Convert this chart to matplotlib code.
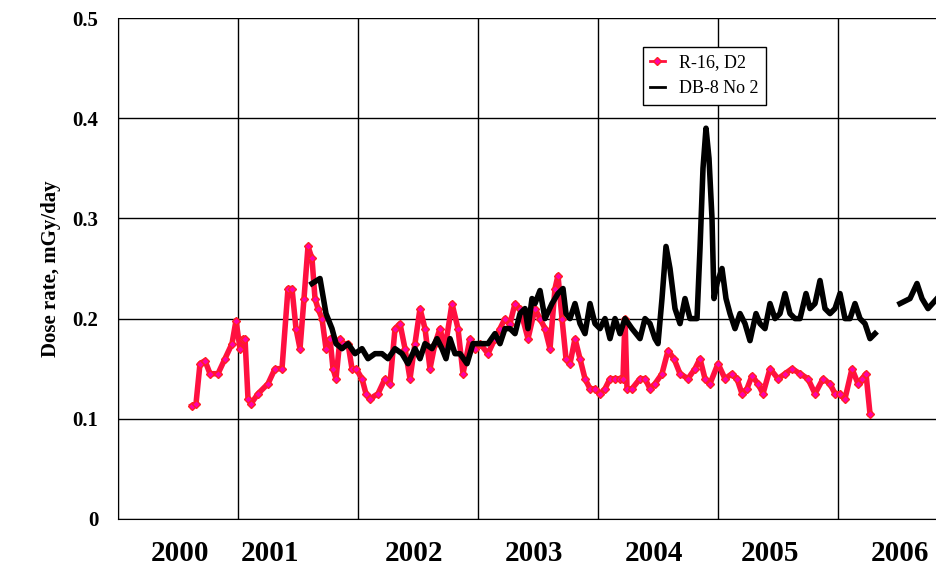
import matplotlib
matplotlib.use("Agg")
import matplotlib.pyplot as plt
import numpy as np

# time in months since Jan 1999
r16_m = [7.4,7.8,8.2,8.7,9.2,10,10.7,11.4,11.8,12.2,12.5,12.7,13,13.3,14,15,15.7,16.4,17,17.4,17.8,18.2,18.6,19,19.4,19.7,20,20.4,20.8,21.2,21.5,21.8,22.2,22.5,23,23.4,23.8,24.4,24.8,25.2,26,26.7,27.2,27.7,28.2,28.7,29.2,29.7,30.2,30.7,31.2,31.7,32.2,32.7,33.4,34,34.5,35.2,35.7,36.2,37,37.7,38.2,38.7,39.2,39.7,40.2,41,41.7,42.2,42.7,43.2,43.7,44,44.4,44.8,45.2,45.7,46.2,46.7,47.2,47.7,48.2,48.7,49.2,49.7,50.2,50.5,50.7,50.9,51.4,52.2,52.7,53.2,53.7,54.4,55,55.6,56.2,57,57.7,58.2,58.7,59.2,60,60.7,61.4,61.9,62.4,62.9,63.4,64,64.5,65.2,66,66.7,67.4,68.2,69,69.7,70.5,71.2,71.7,72.2,72.7,73.4,74,74.4,74.8,75.2]
r16_v = [0.113,0.115,0.155,0.158,0.145,0.145,0.16,0.175,0.198,0.17,0.18,0.18,0.12,0.115,0.125,0.135,0.15,0.15,0.23,0.23,0.19,0.17,0.22,0.272,0.26,0.22,0.21,0.2,0.17,0.18,0.15,0.14,0.18,0.175,0.175,0.15,0.15,0.14,0.125,0.12,0.125,0.14,0.135,0.19,0.195,0.17,0.14,0.175,0.21,0.19,0.15,0.175,0.19,0.17,0.215,0.19,0.145,0.18,0.17,0.175,0.165,0.18,0.19,0.20,0.195,0.215,0.21,0.18,0.21,0.2,0.19,0.17,0.23,0.243,0.2,0.16,0.155,0.18,0.16,0.14,0.13,0.13,0.125,0.13,0.14,0.14,0.14,0.14,0.2,0.13,0.13,0.14,0.14,0.13,0.135,0.145,0.168,0.16,0.145,0.14,0.15,0.16,0.14,0.135,0.155,0.14,0.145,0.14,0.125,0.13,0.143,0.135,0.125,0.15,0.14,0.145,0.15,0.145,0.14,0.125,0.14,0.135,0.125,0.125,0.12,0.15,0.135,0.14,0.145,0.105]

db8_m = [19.4,20.2,20.8,21.4,21.8,22.4,23,23.7,24.4,25,25.7,26.4,27,27.7,28.4,29,29.7,30.2,30.7,31.4,31.9,32.4,32.8,33.2,33.7,34.2,34.9,35.5,36.2,37,37.7,38.2,38.7,39.2,39.7,40.2,40.7,41,41.4,41.7,42.2,42.7,43.4,44,44.5,44.8,45.2,45.7,46.2,46.7,47.2,47.7,48.2,48.7,49.2,49.7,50.2,50.7,51.4,52.2,52.7,53.2,53.7,54,54.4,54.8,55.2,55.7,56.2,56.7,57.2,57.9,58.2,58.5,58.8,59.1,59.4,59.6,59.9,60.4,60.8,61.2,61.7,62.2,62.7,63.2,63.8,64.2,64.7,65.2,65.7,66.2,66.7,67.2,67.7,68.2,68.8,69.2,69.7,70.2,70.7,71.2,71.7,72.2,72.7,73.2,73.7,74.2,74.7,75.2,75.7]
db8_v = [0.235,0.24,0.205,0.19,0.175,0.17,0.175,0.165,0.17,0.16,0.165,0.165,0.16,0.17,0.165,0.155,0.17,0.16,0.175,0.17,0.18,0.17,0.16,0.18,0.165,0.165,0.155,0.175,0.175,0.175,0.185,0.175,0.19,0.19,0.185,0.205,0.21,0.19,0.22,0.215,0.228,0.2,0.215,0.225,0.23,0.205,0.2,0.215,0.195,0.185,0.215,0.195,0.19,0.2,0.18,0.2,0.185,0.2,0.19,0.18,0.2,0.195,0.18,0.175,0.22,0.272,0.25,0.21,0.195,0.22,0.2,0.2,0.27,0.35,0.39,0.36,0.3,0.22,0.235,0.25,0.22,0.205,0.19,0.205,0.195,0.178,0.205,0.195,0.19,0.215,0.2,0.205,0.225,0.205,0.2,0.2,0.225,0.21,0.215,0.238,0.21,0.205,0.21,0.225,0.2,0.2,0.215,0.2,0.195,0.18,0.185]
db8b_m = [78.2,79.2,79.9,80.4,81,81.9]
db8b_v = [0.215,0.22,0.235,0.22,0.21,0.22]

year_labels = ["2000","2001","2002","2003","2004","2005","2006"]
label_pos = [0.52,1.27,2.47,3.47,4.47,5.43,6.52]  # in years from 1999

fig = plt.figure(figsize=(9.37,5.73), dpi=100)
ax = fig.add_axes([118/937, 1-519/573, 1-118/937, (519-18)/573])
serif = "Liberation Serif"
tm = lambda m: 1999 + np.array(m)/12
ax.plot(tm(r16_m), r16_v, color="#ff1040", lw=4, marker="D", ms=4, mfc="#ff00aa", mec="#ff2020", label="R-16, D2")
ax.plot(tm(db8_m), db8_v, color="black", lw=4, label="DB-8 No 2")
ax.plot(tm(db8b_m), db8b_v, color="black", lw=4)
ax.set_xlim(1999, 1999+819/120)
ax.set_ylim(0, 0.5)
ax.set_xticks(np.arange(1999, 2006))
ax.set_xticklabels([])
ax.tick_params(axis="x", length=0)
for lab, p in zip(year_labels, label_pos):
    ax.text(1999+p, -0.034, lab, ha="center", va="center", fontsize=21, fontweight="bold", family=serif, clip_on=False)
ax.set_yticks([0,0.1,0.2,0.3,0.4,0.5])
ax.set_yticklabels(["0","0.1","0.2","0.3","0.4","0.5"], fontsize=15, fontweight="bold", family=serif)
ax.tick_params(axis="y", pad=14, length=0)
ax.grid(True, color="black", lw=1)
for s in ["top","right"]:
    ax.spines[s].set_visible(False)
ax.set_ylabel("Dose rate, mGy/day", family=serif, fontsize=15, fontweight="bold", labelpad=8)
leg = ax.legend(loc="upper left", bbox_to_anchor=(0.63, 0.96), prop={"family": serif, "size": 13}, frameon=True, fancybox=False, edgecolor="black", framealpha=1, handlelength=0.8)
for h in leg.get_lines():
    h.set_linewidth(2)
fig.savefig("out.png", dpi=100)
